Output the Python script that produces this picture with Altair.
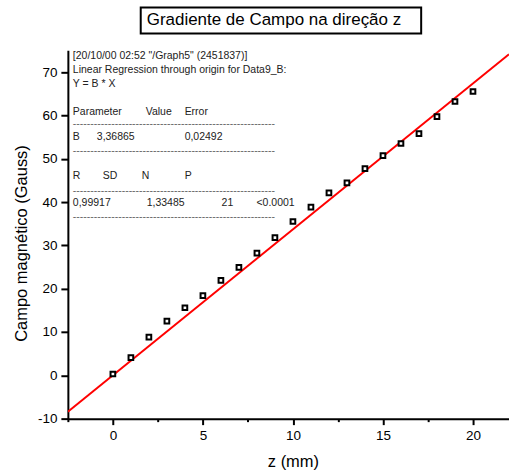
import altair as alt
import pandas as pd

# ---------------- data ----------------
z_mm = [0, 1, 2, 3, 4, 5, 6, 7, 8, 9, 10, 11, 12, 13, 14, 15, 16, 17, 18, 19, 20]
campo_gauss = [0.3, 4.1, 8.8, 12.5, 15.6, 18.4, 21.9, 24.9, 28.2, 31.8, 35.5,
               38.8, 42.1, 44.4, 47.7, 50.7, 53.5, 55.8, 59.7, 63.2, 65.5]
slope_B = 3.36865
fit_z = [-2.5, 22]
x_tick_values = [-2.5, 0, 2.5, 5, 7.5, 10, 12.5, 15, 17.5, 20]
y_tick_values = [-10, -5, 0, 5, 10, 15, 20, 25, 30, 35, 40, 45, 50, 55, 60, 65, 70, 75]
title_text = "Gradiente de Campo na direção z"
header_lines = ['[20/10/00 02:52 "/Graph5" (2451837)]',
                'Linear Regression through origin for Data9_B:',
                'Y = B * X']
param_header = ["Parameter", "Value", "Error"]
param_row = ["B", "3,36865", "0,02492"]
stat_header = ["R", "SD", "N", "P"]
stat_row = ["0,99917", "1,33485", "21", "<0.0001"]

FONT = "Liberation Sans"

pts = pd.DataFrame({"z": z_mm, "B": campo_gauss})
fit = pd.DataFrame({"z": fit_z, "B": [slope_B * v for v in fit_z]})

xscale = alt.Scale(domain=[-2.5, 22], nice=False, zero=False)
yscale = alt.Scale(domain=[-10, 75], nice=False, zero=False)

xaxis = alt.Axis(
    values=x_tick_values,
    labelExpr="datum.value % 5 === 0 ? datum.value + '' : ''",
    tickSize={"condition": {"test": "datum.value % 5 === 0", "value": 6}, "value": 3},
    labelPadding=4,
    title="z (mm)",
    titleX=225.5, titleY=43, titleAlign="center", titleBaseline="middle",
)
yaxis = alt.Axis(
    values=y_tick_values,
    labelExpr="datum.value % 10 === 0 ? datum.value + '' : ''",
    tickSize={"condition": {"test": "datum.value % 10 === 0", "value": 7}, "value": 4},
    labelPadding=4,
    title="Campo magnético (Gauss)",
    titleX=-46, titleY=193, titleAlign="center", titleBaseline="middle",
)

line = alt.Chart(fit).mark_line(color="#ff0000", strokeWidth=2, clip=True).encode(
    x=alt.X("z:Q", scale=xscale, axis=xaxis),
    y=alt.Y("B:Q", scale=yscale, axis=yaxis),
)
points = alt.Chart(pts).mark_square(
    size=22, filled=True, fill="white", stroke="black", strokeWidth=2, opacity=1
).encode(x="z:Q", y="B:Q")

one = pd.DataFrame({"k": [0]})


def label(text, x, y, size=10.5, color="#222222"):
    return alt.Chart(one).mark_text(
        text=text, align="left", baseline="middle", font=FONT,
        fontSize=size, color=color
    ).encode(x=alt.value(x), y=alt.value(y))


layers = [line, points]

# title box
layers.append(
    alt.Chart(one).mark_rect(fill="white", stroke="black", strokeWidth=2).encode(
        x=alt.value(73), x2=alt.value(354), y=alt.value(-43), y2=alt.value(-17)
    )
)
layers.append(label(title_text, 79, -30, size=17, color="black"))

# regression report text
dash = "-" * 58
header_y = [6, 20, 34]
for t, yy in zip(header_lines, header_y):
    layers.append(label(t, 5, yy))
for t, xx in zip(param_header, [5, 78, 117]):
    layers.append(label(t, xx, 62))
for t, xx in zip(param_row, [5, 29, 117]):
    layers.append(label(t, xx, 87))
for t, xx in zip(stat_header, [5, 35, 74, 117]):
    layers.append(label(t, xx, 126))
for t, xx in zip(stat_row, [5, 79, 154, 189]):
    layers.append(label(t, xx, 153))
for yy in [74, 101, 141, 167]:
    layers.append(label(dash, 5, yy, color="#666666"))

chart = alt.layer(*layers).properties(
    width=442, height=369,
    background="white",
    autosize=alt.AutoSizeParams(type="none"),
    padding={"left": 68, "top": 50, "right": 0, "bottom": 55},
).configure_view(stroke=None).configure_axis(
    grid=False,
    domainColor="black", domainWidth=2,
    tickColor="black", tickWidth=2,
    labelFont=FONT, labelFontSize=13.5, labelColor="black",
    titleFont=FONT, titleFontSize=16.5, titleFontWeight="normal", titleColor="black",
    labelOverlap=False,
)

chart.save("out.html", embed_options={"renderer": "svg", "actions": False})
